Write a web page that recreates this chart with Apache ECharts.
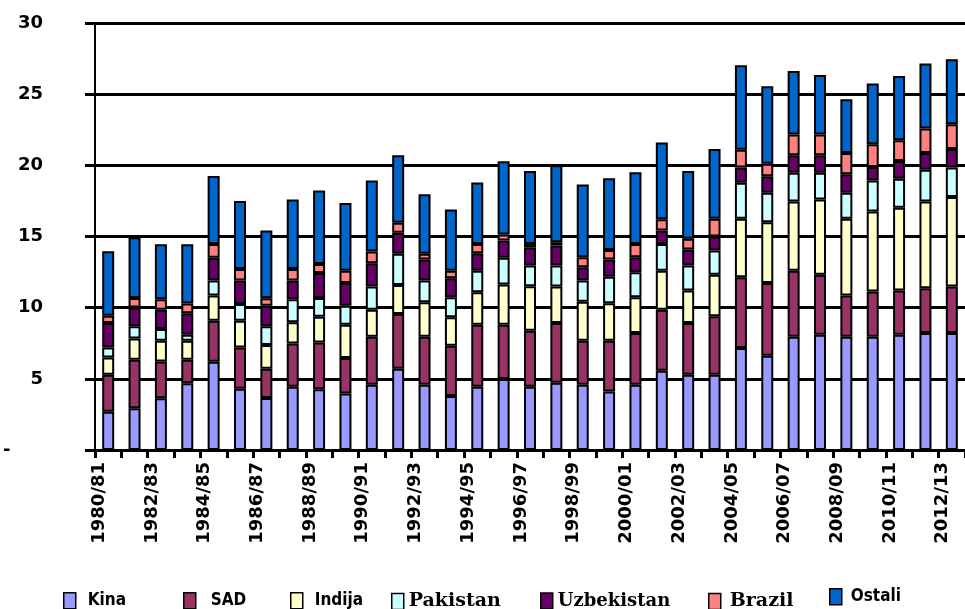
<!DOCTYPE html>
<html>
<head>
<meta charset="utf-8">
<script src="https://cdn.jsdelivr.net/npm/echarts@6/dist/echarts.min.js"></script>
<style>
html,body{margin:0;padding:0;background:#fff;}
#chart{width:965px;height:609px;}
</style>
</head>
<body>
<div id="chart"></div>
<script>
const categories = ["1980/81","1981/82","1982/83","1983/84","1984/85","1985/86","1986/87","1987/88","1988/89","1989/90","1990/91","1991/92","1992/93","1993/94","1994/95","1995/96","1996/97","1997/98","1998/99","1999/00","2000/01","2001/02","2002/03","2003/04","2004/05","2005/06","2006/07","2007/08","2008/09","2009/10","2010/11","2011/12","2012/13"];
const kina = [2.68,2.93,3.64,4.69,6.2,4.3,3.66,4.44,4.27,3.97,4.58,5.7,4.58,3.8,4.44,4.98,4.44,4.72,4.58,4.11,4.58,5.56,5.28,5.28,7.16,6.62,7.96,8.1,7.96,7.96,8.1,8.22,8.22];
const sad = [2.6,3.41,2.58,1.65,2.88,2.9,2.04,3.05,3.29,2.49,3.38,3.85,3.38,3.52,4.36,3.82,3.94,4.2,3.1,3.57,3.64,4.3,3.64,4.11,4.98,5.12,4.64,4.22,2.89,3.17,3.1,3.14,3.26];
const indija = [1.22,1.5,1.46,1.34,1.77,1.88,1.67,1.48,1.81,2.34,1.9,2.05,2.42,2.0,2.28,2.82,3.12,2.56,2.74,2.63,2.51,2.74,2.28,2.93,4.1,4.26,4.86,5.28,5.39,5.63,5.82,6.1,6.29];
const pakistan = [0.7,0.85,0.82,0.42,1.05,1.18,1.32,1.62,1.31,1.34,1.62,2.18,1.52,1.41,1.52,1.88,1.46,1.48,1.48,1.87,1.76,1.88,1.76,1.69,2.54,2.08,2.02,1.88,1.84,2.18,2.04,2.23,2.07];
const uzbekistan = [1.72,1.33,1.36,1.5,1.6,1.64,1.45,1.31,1.76,1.6,1.64,1.48,1.48,1.34,1.23,1.22,1.29,1.41,0.94,1.2,1.05,0.94,1.12,0.99,1.06,1.15,1.22,1.22,1.29,0.94,1.25,1.18,1.31];
const brazil = [0.52,0.66,0.73,0.7,0.98,0.82,0.52,0.82,0.63,0.86,0.82,0.7,0.4,0.53,0.65,0.42,0.23,0.23,0.7,0.68,0.94,0.8,0.76,1.24,1.26,0.89,1.46,1.46,1.5,1.6,1.45,1.71,1.74];
const ostali = [4.53,4.27,3.87,4.16,4.77,4.77,4.76,4.88,5.17,4.75,5.0,4.74,4.18,4.3,4.32,5.14,5.12,5.4,5.12,5.04,5.03,5.38,4.76,4.91,5.94,5.44,4.46,4.18,3.78,4.27,4.51,4.58,4.57];

const seriesNames = ["Kina","SAD","Indija","Pakistan","Uzbekistan","Brazil","Ostali"];
const seriesData = [kina, sad, indija, pakistan, uzbekistan, brazil, ostali];
const colors = ["#9999FF","#993366","#FFFFCC","#CCFFFF","#660066","#FF8080","#0066CC"];

const sansFont = '"DejaVu Sans Condensed","DejaVu Sans",sans-serif';
const serifFont = '"DejaVu Serif",serif';
const legendDefs = [
  {name:"Kina", left:63, top:592, font:sansFont, size:17, gap:7},
  {name:"SAD", left:183, top:592, font:sansFont, size:17, gap:10},
  {name:"Indija", left:290, top:592, font:sansFont, size:17, gap:7},
  {name:"Pakistan", left:391, top:592, font:serifFont, size:19, gap:0},
  {name:"Uzbekistan", left:540, top:592, font:serifFont, size:18, gap:0},
  {name:"Brazil", left:708, top:592, font:serifFont, size:19, gap:4},
  {name:"Ostali", left:829, top:588, font:sansFont, size:17, gap:4}
];

const chart = echarts.init(document.getElementById('chart'), null, {renderer:'canvas'});
chart.setOption({
  animation:false,
  color: colors,
  grid:{left:92, right:0, top:23, bottom:159, containLabel:false},
  xAxis:{
    type:'category',
    data:categories,
    boundaryGap:true,
    axisLine:{lineStyle:{color:'#000', width:3}},
    axisTick:{show:true, interval:0, length:8, lineStyle:{color:'#000', width:3}},
    axisLabel:{
      interval:1, rotate:90, margin:12, color:'#000',
      fontFamily:'"DejaVu Sans",sans-serif', fontWeight:'bold', fontSize:18,
      verticalAlign:'bottom'
    },
    splitLine:{show:false}
  },
  yAxis:{
    type:'value', min:0, max:30, interval:5,
    axisLine:{show:true, lineStyle:{color:'#000', width:2}},
    axisTick:{show:true, length:10, lineStyle:{color:'#000', width:3}},
    splitLine:{show:true, lineStyle:{color:'#000', width:3}},
    axisLabel:{
      margin:52, color:'#000', fontFamily:'"DejaVu Sans",sans-serif', fontWeight:'bold', fontSize:18,
      formatter:function(v){ return v === 0 ? '{d|-}' : String(v); },
      rich:{d:{width:40, align:'left', fontFamily:'"DejaVu Sans",sans-serif', fontWeight:'bold', fontSize:18, color:'#000'}}
    }
  },
  legend: legendDefs.map(function(d){
    return {
      data:[{name:d.name}],
      left:d.left, top:d.top, padding:0,
      icon:'rect', itemWidth:12, itemHeight:16,
      itemStyle:{borderColor:'#000', borderWidth:1.5},
      selectedMode:false,
      textStyle:{fontFamily:d.font, fontWeight:'bold', fontSize:d.size, color:'#000', padding:[0,0,0,d.gap]}
    };
  }),
  series: seriesNames.map(function(n,i){
    return {
      name:n, type:'bar', stack:'total', data:seriesData[i],
      barWidth:12,
      itemStyle:{color:colors[i], borderColor:'#000', borderWidth:2},
      emphasis:{disabled:true}
    };
  })
});
</script>
</body>
</html>
